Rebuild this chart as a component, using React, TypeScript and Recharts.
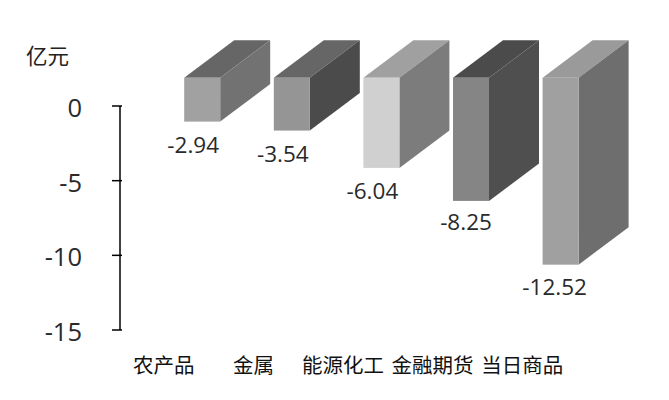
import React from "react";
import { BarChart, Bar, XAxis, YAxis, LabelList } from "recharts";

const categories = ["农产品", "金属", "能源化工", "金融期货", "当日商品"];
const values = [-2.94, -3.54, -6.04, -8.25, -12.52];
const yTicks = [0, -5, -10, -15];

const frontColors = ["#a1a1a1", "#959595", "#d0d0d0", "#858585", "#a0a0a0"];
const topColors = ["#666666", "#666666", "#a0a0a0", "#4b4b4b", "#9a9a9a"];
const sideColors = ["#727272", "#4b4b4b", "#7c7c7c", "#4f4f4f", "#6e6e6e"];

const data = categories.map((name, i) => ({ name, value: values[i] }));

const FRONT_DX = 37.2;
const FRONT_DY = -28.3;
const DEPTH_X = 50;
const DEPTH_Y = -37.5;
const LATIN = "'Open Sans', 'Noto Sans', sans-serif";
const CJK = "'Noto Sans CJK SC', sans-serif";

function Box3D(props: any) {
  const { x, y, width, height, index } = props;
  const top = Math.min(y, y + height) + FRONT_DY;
  const h = Math.abs(height);
  const l = x + FRONT_DX;
  const r = l + width;
  const b = top + h;
  return (
    <g>
      <polygon points={`${l},${top} ${r},${top} ${r + DEPTH_X},${top + DEPTH_Y} ${l + DEPTH_X},${top + DEPTH_Y}`} fill={topColors[index]} />
      <polygon points={`${r},${top} ${r + DEPTH_X},${top + DEPTH_Y} ${r + DEPTH_X},${b + DEPTH_Y} ${r},${b}`} fill={sideColors[index]} />
      <rect x={l} y={top} width={width} height={h} fill={frontColors[index]} />
    </g>
  );
}

function ValueLabel(props: any) {
  const { x, y, width, height, value, index } = props;
  const bottom = Math.max(y, y + height) + FRONT_DY;
  const nudgeX = [0, 0, 0, 4, 3][index] ?? 0;
  const nudgeY = [0, 0, 0, -2, -1][index] ?? 0;
  return (
    <text x={x + FRONT_DX + width / 2 - 9 + nudgeX} y={bottom + 23 + nudgeY} textAnchor="middle" dominantBaseline="central"
      fontFamily={LATIN} fontSize={22.5} fill="#2a2a2a">
      {value}
    </text>
  );
}

function YTick(props: any) {
  const { x, y, payload } = props;
  return (
    <g>
      <line x1={x} x2={x + 10} y1={y} y2={y} stroke="#000000" strokeWidth={1.5} />
      <text x={82} y={y + 1} textAnchor="end" dominantBaseline="central" fontFamily={LATIN} fontSize={25.5} fill="#2a2a2a">
        {payload.value}
      </text>
    </g>
  );
}

export default function App() {
  return (
    <div style={{ position: "absolute", left: 0, top: 0, width: 669, height: 400, background: "#ffffff" }}>
      <div style={{ position: "absolute", left: 26, top: 41, fontFamily: CJK, fontSize: 21.5, lineHeight: "28px", color: "#222222" }}>亿元</div>
      <BarChart width={669} height={400} data={data} barSize={36} margin={{ top: 106, right: 101, bottom: 30, left: 0 }}>
        <XAxis dataKey="name" height={40} axisLine={false} tickLine={false} interval={0} dy={20} dx={-1}
          tick={{ fontFamily: CJK, fontSize: 20.5, fill: "#111111" }} />
        <YAxis width={120} domain={[-15, 0]} ticks={yTicks} interval={0} axisLine={{ stroke: "#000000", strokeWidth: 1.5 }} tickLine={false} tick={<YTick />} />
        <Bar dataKey="value" isAnimationActive={false} shape={<Box3D />}>
          <LabelList dataKey="value" content={<ValueLabel />} />
        </Bar>
      </BarChart>
    </div>
  );
}
